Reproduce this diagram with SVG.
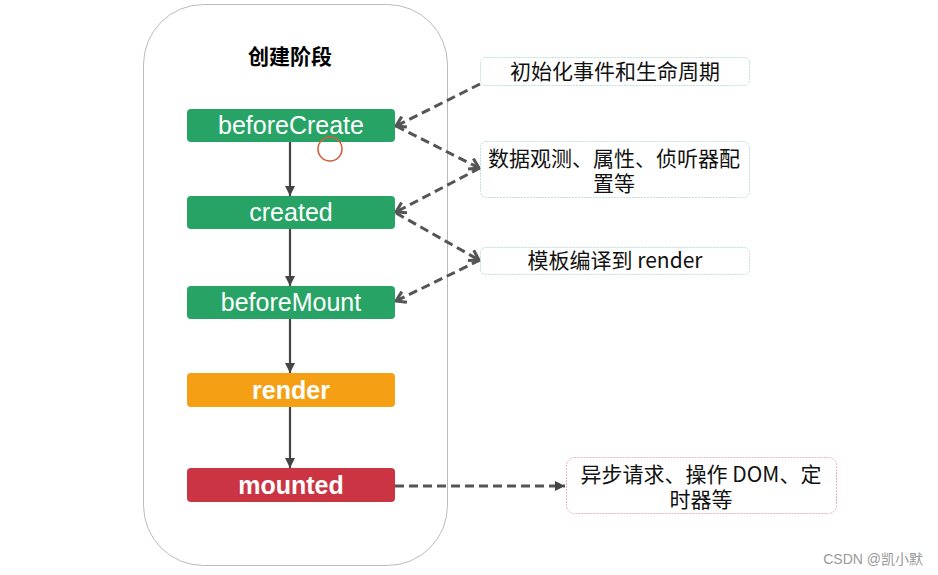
<svg xmlns="http://www.w3.org/2000/svg" width="938" height="575" viewBox="0 0 938 575">
<style>
.node text{font-family:"Liberation Sans",Arial,sans-serif;font-size:25px;fill:#fff;text-anchor:middle}
.note text{font-family:"Noto Sans CJK SC",sans-serif;font-size:21px;fill:#111;text-anchor:middle}
.solid{stroke:#444;stroke-width:2.2;fill:none}
.dash{stroke:#555;stroke-width:3;stroke-dasharray:9 5;fill:none}
</style>
<defs>
<marker id="tri" viewBox="0 0 10 10" refX="10" refY="5" markerWidth="10" markerHeight="10" markerUnits="userSpaceOnUse" orient="auto">
<path d="M0,0 L10,5 L0,10 z" fill="#444"/>
</marker>
<marker id="chev" viewBox="0 0 12 12" refX="10" refY="6" markerWidth="14" markerHeight="14" markerUnits="userSpaceOnUse" orient="auto">
<path d="M2,1 L10,6 L2,11" fill="none" stroke="#555" stroke-width="2.6"/>
</marker>
</defs>
<rect width="938" height="575" fill="#fff"/>
<g id="stage">
<rect x="143.5" y="4.5" width="304" height="561" rx="60" ry="60" fill="#fff" stroke="#bbb" stroke-width="1"/>
<text x="290" y="64" font-family="Noto Sans CJK SC,sans-serif" font-size="21" font-weight="bold" text-anchor="middle" fill="#000">创建阶段</text>
</g>
<g id="connectors">
<line class="solid" x1="290" y1="142" x2="290" y2="196" marker-end="url(#tri)"/>
<line class="solid" x1="290" y1="229" x2="290" y2="286" marker-end="url(#tri)"/>
<line class="solid" x1="290" y1="319" x2="290" y2="373" marker-end="url(#tri)"/>
<line class="solid" x1="290" y1="407" x2="290" y2="468" marker-end="url(#tri)"/>
<line class="dash" x1="480" y1="84" x2="396" y2="126" marker-end="url(#chev)"/>
<line class="dash" x1="396" y1="126" x2="479" y2="168" marker-end="url(#chev)"/>
<line class="dash" x1="480" y1="168" x2="396" y2="212" marker-end="url(#chev)"/>
<line class="dash" x1="396" y1="213" x2="479" y2="260" marker-end="url(#chev)"/>
<line class="dash" x1="480" y1="260" x2="396" y2="301" marker-end="url(#chev)"/>
<line class="dash" x1="395" y1="486" x2="565" y2="486" marker-end="url(#tri)"/>
</g>
<g id="beforeCreate" class="node">
<rect x="187" y="109" width="208" height="33" rx="4" fill="#27a465"/>
<text x="291" y="134">beforeCreate</text>
</g>
<g id="created" class="node">
<rect x="187" y="196" width="208" height="33" rx="4" fill="#27a465"/>
<text x="291" y="221">created</text>
</g>
<g id="beforeMount" class="node">
<rect x="187" y="286" width="208" height="33" rx="4" fill="#27a465"/>
<text x="291" y="311">beforeMount</text>
</g>
<g id="render" class="node">
<rect x="187" y="373" width="208" height="34" rx="4" fill="#f5a014"/>
<text x="291" y="399" font-weight="bold">render</text>
</g>
<g id="mounted" class="node">
<rect x="187" y="468" width="208" height="34" rx="4" fill="#cb3543"/>
<text x="291" y="494" font-weight="bold">mounted</text>
</g>
<g id="note1" class="note">
<rect x="480.5" y="57.5" width="269" height="28" rx="5" fill="#fff" stroke="#bfe0d6" stroke-width="1" stroke-dasharray="2 1"/>
<text x="615" y="79">初始化事件和生命周期</text>
</g>
<g id="note2" class="note">
<rect x="480.5" y="141.5" width="269" height="56" rx="6" fill="#fff" stroke="#bfe0d6" stroke-width="1" stroke-dasharray="2 1"/>
<text x="614" y="166">数据观测、属性、侦听器配<tspan x="614" y="191">置等</tspan></text>
</g>
<g id="note3" class="note">
<rect x="480.5" y="247.5" width="269" height="27" rx="5" fill="#fff" stroke="#bfe0d6" stroke-width="1" stroke-dasharray="2 1"/>
<text x="615" y="268">模板编译到 render</text>
</g>
<g id="note4" class="note">
<rect x="566.5" y="457.5" width="270" height="56" rx="8" fill="#fff" stroke="#e8b4c2" stroke-width="1" stroke-dasharray="2 1"/>
<text x="701" y="482">异步请求、操作 DOM、定<tspan x="701" y="507">时器等</tspan></text>
</g>
<circle cx="330" cy="149" r="12" fill="none" stroke="#d5603f" stroke-width="1.6"/>
<text x="923" y="564" font-family="Liberation Sans,Noto Sans CJK SC,sans-serif" font-size="14" fill="#999" text-anchor="end">CSDN @凯小默</text>
</svg>
